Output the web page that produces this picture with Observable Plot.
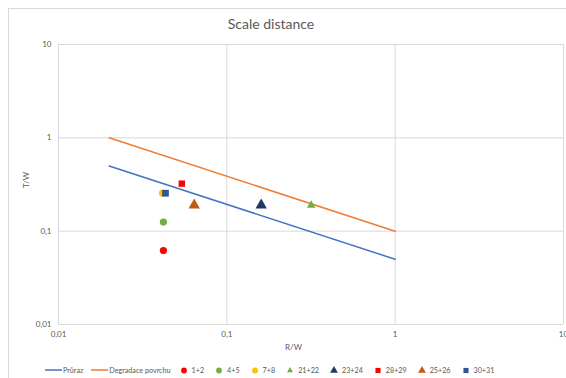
<!DOCTYPE html>
<html>
<head>
<meta charset="utf-8">
<script src="https://cdn.jsdelivr.net/npm/d3@7"></script>
<script src="https://cdn.jsdelivr.net/npm/@observablehq/plot@0.6"></script>
<style>
  html, body { margin: 0; padding: 0; background: #fff; width: 566px; height: 378px; overflow: hidden; }
  #page { position: relative; width: 566px; height: 378px; font-family: Lato, "Open Sans", sans-serif; color: #595959; }
  #frame { position: absolute; left: 8px; top: 8px; width: 620px; height: 420px; border: 1px solid #d9d9d9; }
  #title { position: absolute; left: 0; width: 542px; top: 15px; text-align: center; font-size: 14px; color: #595959; }
  #chart { position: absolute; left: 0; top: 0; }
  #xlabel { position: absolute; left: 285px; top: 342px; font-size: 8px; }
  #ylabel { position: absolute; left: 18px; top: 175px; font-size: 8px; transform: rotate(-90deg); transform-origin: center; }
  #legend { position: absolute; left: 45px; top: 365px; display: flex; align-items: center; font-size: 7.2px; white-space: nowrap; }
  #legend .item { display: flex; align-items: center; }
  #legend .line { margin-right: 8px; }
  #legend .sym { margin-right: 10px; }
</style>
</head>
<body>
<div id="page">
  <div id="frame"></div>
  <div id="title">Scale distance</div>
  <div id="chart"></div>
  <div id="xlabel">R/W</div>
  <div id="ylabel">T/W</div>
  <div id="legend"></div>
</div>
<script>
// Lines
const lineX = [0.02, 1];
const prurazY = [0.5, 0.05];
const degradaceY = [1, 0.1];
const lineNames = ["Průraz", "Degradace povrchu"];
const lineColors = ["#4472C4", "#ED7D31"];

// Point series
const seriesNames = ["1+2", "4+5", "7+8", "21+22", "23+24", "28+29", "25+26", "30+31"];
const rwValues = [0.042, 0.042, 0.0415, 0.317, 0.16, 0.054, 0.064, 0.0432];
const twValues = [0.062, 0.125, 0.255, 0.19, 0.19, 0.323, 0.19, 0.255];
const seriesSymbols = ["circle", "circle", "circle", "triangle", "triangle", "square", "triangle", "square"];
const seriesColors = ["#FF0000", "#70AD47", "#FFC000", "#70AD47", "#203864", "#FF0000", "#C55A11", "#2F5597"];
const seriesSizes = [3.6, 3.6, 3.6, 3.2, 4.2, 3.6, 4.2, 3.8];

// Ticks
const xTicks = [0.01, 0.1, 1, 10];
const yTicks = [0.01, 0.1, 1, 10];
const tickLabel = t => String(t).replace(".", ",");

const lineData = [
  ...lineX.map((x, i) => ({x, y: prurazY[i], s: lineNames[0]})),
  ...lineX.map((x, i) => ({x, y: degradaceY[i], s: lineNames[1]}))
];
const points = seriesNames.map((name, i) => ({
  name, x: rwValues[i], y: twValues[i], symbol: seriesSymbols[i], color: seriesColors[i], r: seriesSizes[i]
}));

const chart = Plot.plot({
  width: 566,
  height: 356,
  marginLeft: 58,
  marginRight: 3,
  marginTop: 44,
  marginBottom: 32,
  style: {fontFamily: "Lato, 'Open Sans', sans-serif", fontSize: "8px", color: "#595959", background: "transparent", overflow: "visible"},
  x: {type: "log", domain: [0.01, 10], ticks: xTicks, tickFormat: tickLabel, label: null},
  y: {type: "log", domain: [0.01, 10], ticks: yTicks, tickFormat: tickLabel, label: null},
  marks: [
    Plot.ruleX(xTicks, {stroke: "#d9d9d9", strokeWidth: 1}),
    Plot.ruleY(yTicks, {stroke: "#d9d9d9", strokeWidth: 1}),
    Plot.axisX({ticks: xTicks, tickFormat: tickLabel, tickSize: 0, tickPadding: 7, label: null}),
    Plot.axisY({ticks: yTicks, tickFormat: tickLabel, tickSize: 0, tickPadding: 7, label: null}),
    Plot.line(lineData, {x: "x", y: "y", z: "s", stroke: d => lineColors[lineNames.indexOf(d.s)], strokeWidth: 1.5}),
    ...points.map(p => Plot.dot([p], {x: "x", y: "y", symbol: () => p.symbol, fill: p.color, stroke: "none", r: p.r}))
  ]
});
document.getElementById("chart").appendChild(chart);

// Legend
const legend = document.getElementById("legend");
lineNames.forEach((n, i) => {
  const it = document.createElement("div");
  it.className = "item line";
  it.innerHTML = `<svg width="17" height="8" style="margin-right:1px"><line x1="0" y1="4" x2="17" y2="4" stroke="${lineColors[i]}" stroke-width="1.5"/></svg><span>${n}</span>`;
  legend.appendChild(it);
});
seriesNames.forEach((n, i) => {
  const it = document.createElement("div");
  it.className = "item sym";
  const sz = n === "21+22" ? 2.2 : 2.9;
  const type = seriesSymbols[i] === "circle" ? d3.symbolCircle : seriesSymbols[i] === "square" ? d3.symbolSquare : d3.symbolTriangle;
  const path = d3.symbol(type, Math.PI * sz * sz)();
  it.innerHTML = `<svg width="10" height="10" style="margin-right:3px"><path transform="translate(5,5.5)" d="${path}" fill="${seriesColors[i]}"/></svg><span>${n}</span>`;
  legend.appendChild(it);
});
</script>
</body>
</html>
